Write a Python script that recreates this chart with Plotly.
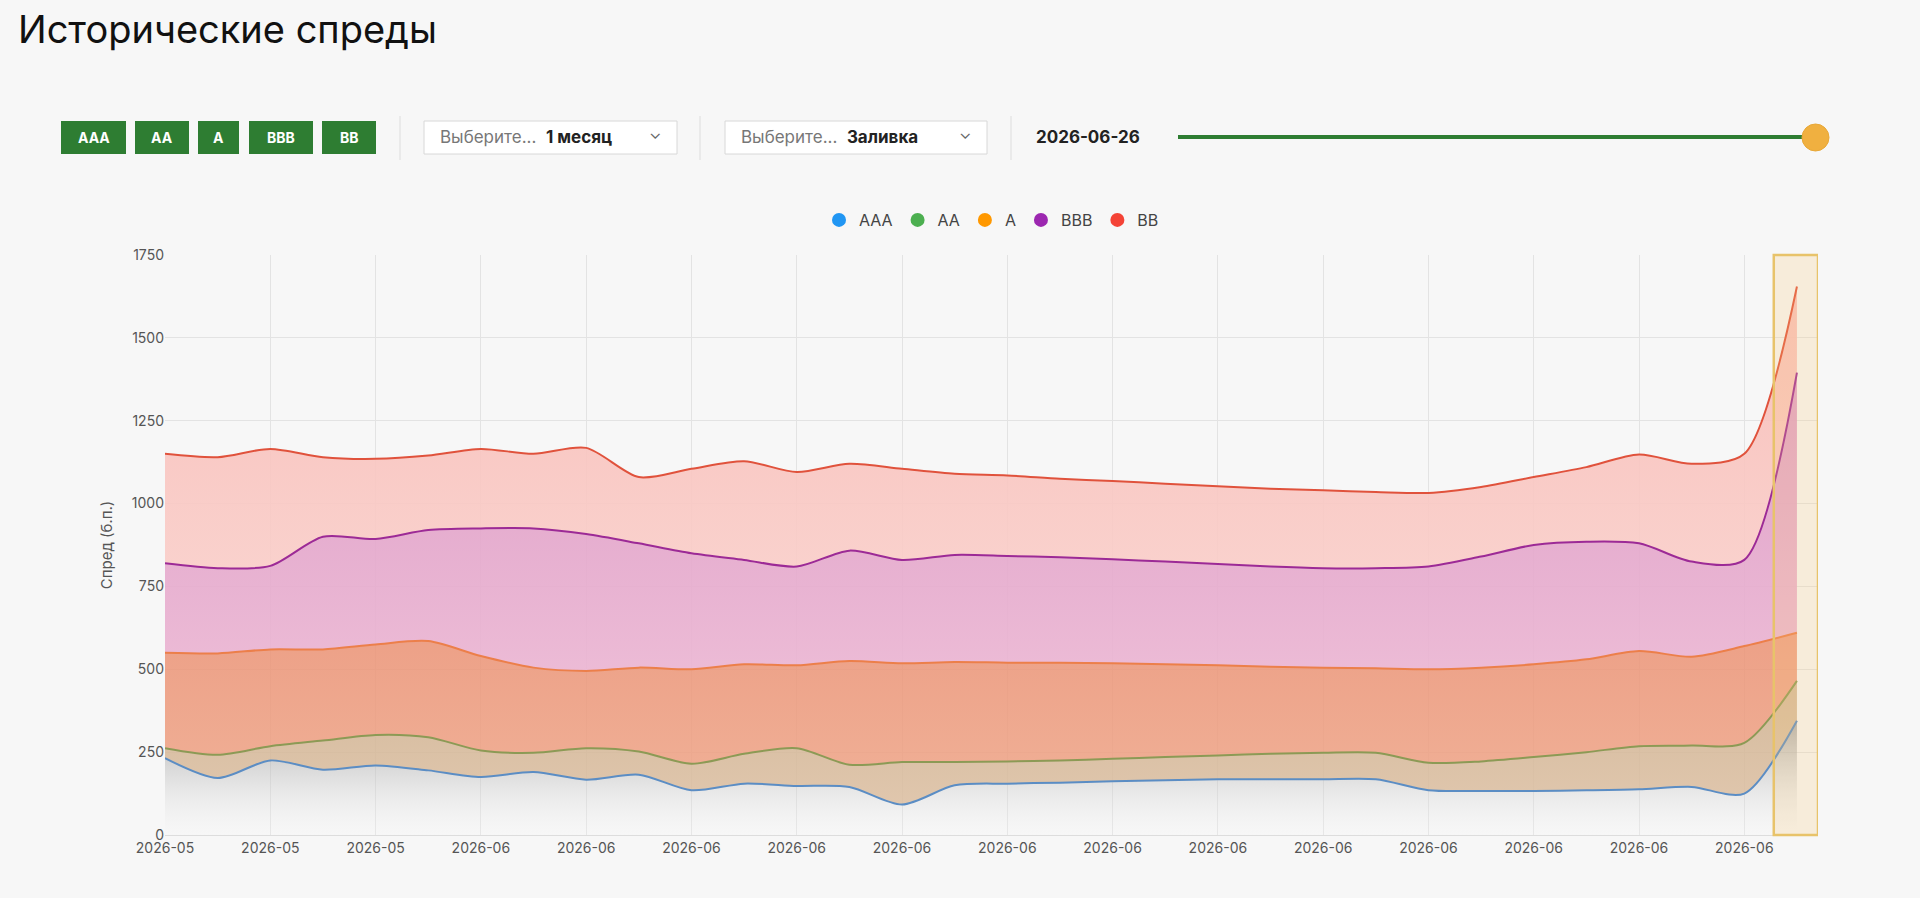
import plotly.graph_objects as go

W, H = 1920, 898
L, R, T, B = 165, 102, 255, 63
PW, PH = W - L - R, H - T - B


def px(x):
    return (x - L) / PW


def py(y):
    return (H - B - y) / PH


series = {
    "AAA": [232, 172, 225, 197, 210, 195, 175, 190, 167, 182, 135, 155, 148, 145, 92, 150,
            155, 158, 162, 165, 168, 168, 168, 168, 135, 133, 133, 135, 138, 145, 125, 345],
    "AA": [262, 242, 268, 285, 302, 295, 255, 248, 262, 252, 215, 245, 262, 212, 220, 220,
           222, 225, 230, 235, 240, 245, 248, 248, 218, 222, 235, 250, 268, 270, 278, 465],
    "A": [550, 548, 560, 560, 575, 585, 540, 505, 495, 505, 500, 515, 512, 525, 518, 522,
          520, 520, 518, 515, 512, 508, 505, 503, 500, 505, 515, 530, 555, 538, 570, 610],
    "BBB": [820, 805, 812, 900, 893, 920, 925, 925, 908, 880, 850, 830, 810, 858, 830, 845,
            842, 838, 832, 825, 818, 810, 805, 805, 810, 840, 875, 885, 880, 825, 830, 1395],
    "BB": [1150, 1140, 1165, 1140, 1135, 1145, 1165, 1150, 1168, 1080, 1105, 1128, 1095, 1120, 1105, 1090,
           1085, 1075, 1068, 1060, 1052, 1045, 1040, 1035, 1032, 1050, 1080, 1110, 1148, 1120, 1150, 1655],
}
x = list(range(32))
labels = ["2026-05"] * 3 + ["2026-06"] * 13

# line colour, band colour at top, band colour at bottom
style = {
    "AAA": ("#5b8dc4", "rgba(150,150,150,0.75)", "rgba(247,247,247,0.2)"),
    "AA": ("#8c9a55", "rgba(205,175,140,0.85)", "rgba(220,190,160,0.85)"),
    "A": ("#ec7f4a", "rgba(235,145,115,0.85)", "rgba(238,160,130,0.85)"),
    "BBB": ("#9c2a96", "rgba(220,150,195,0.9)", "rgba(235,180,210,0.9)"),
    "BB": ("#e0523c", "rgba(248,185,180,0.9)", "rgba(250,205,200,0.9)"),
}
legend_colors = {"AAA": "#2196f3", "AA": "#4caf50", "A": "#ff9800", "BBB": "#9c27b0", "BB": "#f44336"}

fig = go.Figure()
for i, (name, values) in enumerate(series.items()):
    line, top, bottom = style[name]
    fig.add_trace(go.Scatter(
        x=x, y=values, mode="lines", line={"color": line, "width": 2, "shape": "spline", "smoothing": 0.8},
        fill="tozeroy" if i == 0 else "tonexty",
        fillgradient={"type": "vertical", "colorscale": [[0, bottom], [1, top]]},
        showlegend=False, hoverinfo="skip",
    ))
for name in ["AAA", "AA", "A", "BBB", "BB"]:
    fig.add_trace(go.Scatter(x=[None], y=[None], mode="markers", name=name,
                             marker={"color": legend_colors[name], "size": 14}))

shapes = [dict(type="rect", xref="x", yref="paper", x0=30.56, x1=31.4, y0=0, y1=1,
               fillcolor="rgba(250,200,120,0.22)", line={"color": "#e8c36a", "width": 2.5}, layer="above")]
annotations = []


def label(text, xp, yp, size, color, xanchor="center"):
    annotations.append(dict(text=text, x=px(xp), y=py(yp), xref="paper", yref="paper", xanchor=xanchor,
                            yanchor="middle", showarrow=False, font={"color": color, "size": size}))


# rating buttons
for text, x0, x1 in [("AAA", 61, 126), ("AA", 135, 189), ("A", 198, 239), ("BBB", 249, 313), ("BB", 322, 376)]:
    shapes.append(dict(type="rect", xref="paper", yref="paper", x0=px(x0), x1=px(x1), y0=py(154), y1=py(121),
                       fillcolor="#2e7d32", line={"width": 0}))
    label(f"<b>{text}</b>", (x0 + x1) / 2, 137.5, 14, "white")
for sx in [400, 700, 1011]:
    shapes.append(dict(type="line", xref="paper", yref="paper", x0=px(sx), x1=px(sx), y0=py(160), y1=py(116),
                       line={"color": "#dddddd", "width": 1}))
for x0, x1, value in [(424, 677, "1 месяц"), (725, 987, "Заливка")]:
    shapes.append(dict(type="rect", xref="paper", yref="paper", x0=px(x0), x1=px(x1), y0=py(154), y1=py(121),
                       fillcolor="white", line={"color": "#d8d8d8", "width": 1}))
    label(f"<span style='color:#777'>Выберите...</span>  <b>{value}</b>", x0 + 14, 137.5, 17, "#222", "left")
    label("⌄", x1 - 22, 133, 16, "#666")
label("<b>2026-06-26</b>", 1034, 137.5, 17, "#222", "left")
shapes.append(dict(type="line", xref="paper", yref="paper", x0=px(1178), x1=px(1816), y0=py(137), y1=py(137),
                   line={"color": "#2e7d32", "width": 4}))
shapes.append(dict(type="circle", xref="paper", yref="paper", x0=px(1802), x1=px(1829), y0=py(151), y1=py(124),
                   fillcolor="#f0b040", line={"color": "#e8a838", "width": 1}))

fig.update_layout(
    width=W, height=H,
    margin={"l": L, "r": R, "t": T, "b": B},
    paper_bgcolor="#f7f7f7", plot_bgcolor="#f7f7f7",
    font={"family": "Inter, Open Sans, sans-serif", "color": "#555"},
    title={"text": "Исторические спреды", "x": 18 / W, "xanchor": "left", "y": 1 - 30 / H, "yanchor": "middle",
           "font": {"size": 38, "color": "#111"}},
    legend={"orientation": "h", "x": 0.5, "xanchor": "center", "y": py(220), "yanchor": "middle",
            "traceorder": "normal",
            "font": {"size": 16, "color": "#444"}, "bgcolor": "rgba(0,0,0,0)"},
    xaxis={"range": [0, 31.4], "tickvals": list(range(0, 32, 2)), "ticktext": labels,
           "showgrid": True, "gridcolor": "#e3e3e3", "zeroline": False, "tickfont": {"size": 14},
           "showline": True, "linecolor": "#dddddd"},
    yaxis={"range": [0, 1750], "dtick": 250, "gridcolor": "#e3e3e3", "zeroline": False,
           "tickfont": {"size": 14}, "title": {"text": "Спред (б.п.)", "font": {"size": 15}}},
    shapes=shapes, annotations=annotations,
)
fig.write_html("out.html", config={"displayModeBar": False}, post_script="document.body.style.margin='0';")
